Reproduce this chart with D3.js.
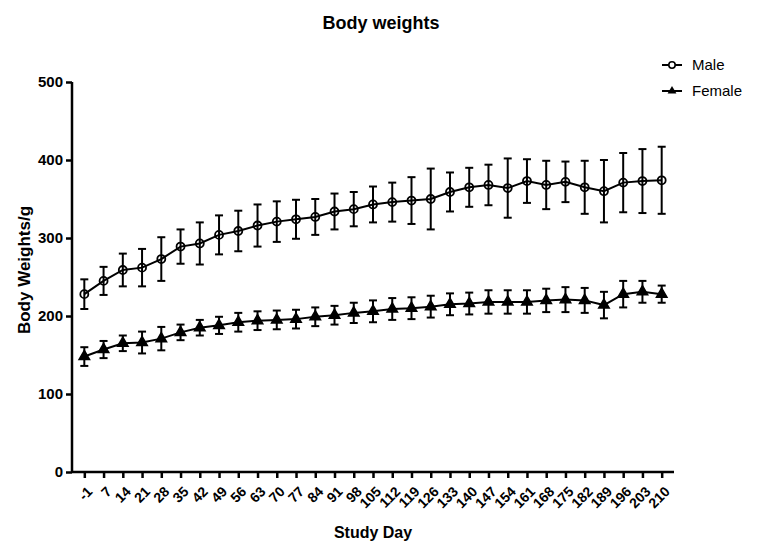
<!DOCTYPE html>
<html>
<head>
<meta charset="utf-8">
<script src="https://cdn.jsdelivr.net/npm/d3@7"></script>
<style>
  html, body { margin: 0; padding: 0; background: #fff; }
  svg { display: block; font-family: "Liberation Sans", Arial, Helvetica, sans-serif; }
</style>
</head>
<body>
<svg id="chart" width="758" height="556"></svg>
<script>
const days = ["-1","7","14","21","28","35","42","49","56","63","70","77","84","91","98","105","112","119","126","133","140","147","154","161","168","175","182","189","196","203","210"];
const maleMean = [228,245,259,262,273,289,293,304,309,316,321,324,327,334,337,343,346,348,350,359,365,368,364,373,368,372,365,360,371,373,374];
const maleSD   = [19,18,21,24,28,22,27,25,26,27,26,25,23,23,22,23,25,30,39,25,25,26,38,28,31,26,34,40,38,41,43];
const femaleMean = [148,157,165,166,171,179,185,188,192,194,195,196,199,201,204,206,209,210,212,215,216,218,218,218,220,221,220,214,228,231,228];
const femaleSD   = [12,11,10,14,15,10,10,11,12,12,12,12,12,12,13,14,14,14,14,14,14,15,15,15,15,16,16,17,17,14,11];
const yTicks = [0,100,200,300,400,500];
const seriesNames = ["Male","Female"];

const svg = d3.select("#chart");
const mLeft = 72, mRight = 674, mTop = 82, mBottom = 472;

const x = d3.scalePoint().domain(days).range([mLeft, mRight]).padding(0.64);
const y = d3.scaleLinear().domain([0, 500]).range([mBottom, mTop]);

// Title
svg.append("text").attr("x", 381).attr("y", 29).attr("text-anchor", "middle")
  .attr("font-size", 18).attr("font-weight", "bold").text("Body weights");

// Y axis
const yAxis = svg.append("g").attr("transform", `translate(${mLeft},0)`)
  .call(d3.axisLeft(y).tickValues(yTicks).tickSize(6).tickPadding(3).tickFormat(d3.format("d")));
yAxis.select(".domain").attr("stroke-width", 2.5).attr("d", `M0,${mTop}V${mBottom}`);
yAxis.selectAll(".tick line").attr("stroke-width", 2.5);
yAxis.selectAll(".tick text").attr("font-size", 15).attr("font-weight", "bold")
  .attr("font-family", "Liberation Sans, Arial, sans-serif").attr("fill", "#000");

// X axis
const xAxis = svg.append("g").attr("transform", `translate(0,${mBottom})`)
  .call(d3.axisBottom(x).tickSize(6).tickSizeOuter(0));
xAxis.select(".domain").attr("stroke-width", 2.5).attr("d", `M${mLeft},0H${mRight}`);
xAxis.selectAll(".tick line").attr("stroke-width", 2.5);
xAxis.selectAll(".tick text")
  .attr("font-size", 14).attr("font-weight", "bold")
  .attr("font-family", "Liberation Sans, Arial, sans-serif").attr("fill", "#000")
  .attr("text-anchor", "end")
  .attr("x", 0).attr("y", 0).attr("dy", "0.35em")
  .attr("transform", "translate(5,17) rotate(-45)");

// Axis titles
svg.append("text").attr("x", 373).attr("y", 538).attr("text-anchor", "middle")
  .attr("font-size", 16).attr("font-weight", "bold").text("Study Day");
svg.append("text").attr("transform", "translate(30,270) rotate(-90)").attr("text-anchor", "middle")
  .attr("font-size", 17).attr("font-weight", "bold").text("Body Weights/g");

const triangle = d3.symbol().type(d3.symbolTriangle).size(48);

function drawSeries(means, sds, kind) {
  const g = svg.append("g");
  const pts = days.map((d, i) => ({d, m: means[i], s: sds[i]}));
  const eb = g.selectAll("g.eb").data(pts).join("g").attr("class", "eb");
  eb.append("line").attr("x1", p => x(p.d)).attr("x2", p => x(p.d))
    .attr("y1", p => y(p.m - p.s)).attr("y2", p => y(p.m + p.s))
    .attr("stroke", "#000").attr("stroke-width", 2);
  [1, -1].forEach(sgn => {
    eb.append("line").attr("x1", p => x(p.d) - 4).attr("x2", p => x(p.d) + 4)
      .attr("y1", p => y(p.m + sgn * p.s)).attr("y2", p => y(p.m + sgn * p.s))
      .attr("stroke", "#000").attr("stroke-width", 2);
  });
  g.append("path").datum(pts)
    .attr("d", d3.line().x(p => x(p.d)).y(p => y(p.m)))
    .attr("fill", "none").attr("stroke", "#000").attr("stroke-width", 2);
  if (kind === "circle") {
    g.selectAll("circle").data(pts).join("circle")
      .attr("cx", p => x(p.d)).attr("cy", p => y(p.m)).attr("r", 4)
      .attr("fill", "none").attr("stroke", "#000").attr("stroke-width", 1.8);
  } else {
    g.selectAll("path.tri").data(pts).join("path").attr("class", "tri")
      .attr("d", triangle).attr("transform", p => `translate(${x(p.d)},${y(p.m)})`)
      .attr("fill", "#000").attr("stroke", "#000").attr("stroke-width", 1.5);
  }
}
drawSeries(maleMean, maleSD, "circle");
drawSeries(femaleMean, femaleSD, "triangle");

// Legend
const leg = svg.append("g");
seriesNames.forEach((name, i) => {
  const ly = 65 + i * 26;
  leg.append("line").attr("x1", 662).attr("x2", 682).attr("y1", ly).attr("y2", ly)
    .attr("stroke", "#000").attr("stroke-width", 2);
  if (i === 0) {
    leg.append("circle").attr("cx", 672).attr("cy", ly).attr("r", 3.2)
      .attr("fill", "#fff").attr("stroke", "#000").attr("stroke-width", 1.6);
  } else {
    leg.append("path").attr("d", d3.symbol().type(d3.symbolTriangle).size(34))
      .attr("transform", `translate(672,${ly})`).attr("fill", "#000");
  }
  leg.append("text").attr("x", 692).attr("y", ly).attr("dy", "0.35em")
    .attr("font-size", 15).text(name);
});
</script>
</body>
</html>
